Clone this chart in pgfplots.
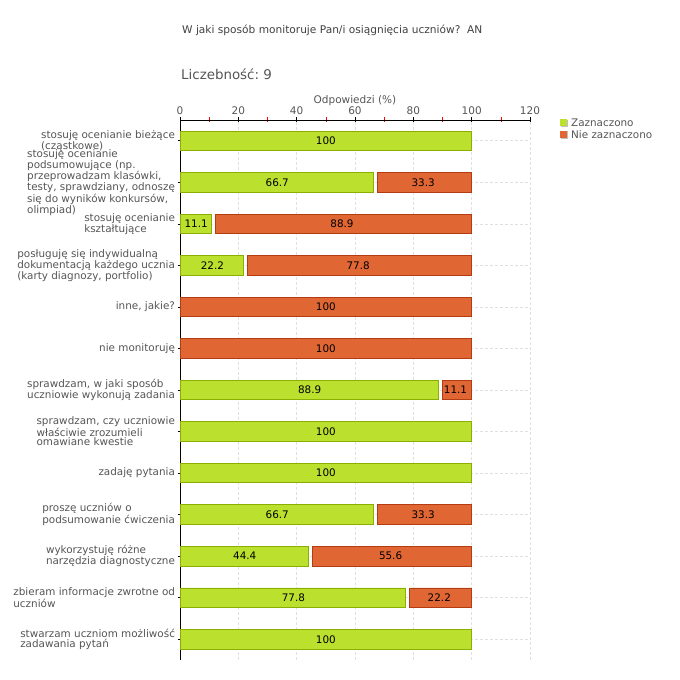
\documentclass[border=0pt]{standalone}
\usepackage{pgfplots}
\pgfplotsset{compat=1.18}
\usepackage{pgfplotstable}
\usepackage{fontspec}
\setmainfont{DejaVu Sans}
\definecolor{gfill}{HTML}{BCE02E}
\definecolor{gline}{HTML}{8CAE00}
\definecolor{ofill}{HTML}{E06633}
\definecolor{oline}{HTML}{B43C12}
\definecolor{txt}{HTML}{555555}
\pgfplotstableread{
y v1 v2
12 100 0
11 66.7 33.3
10 11.1 88.9
9 22.2 77.8
8 0 100
7 0 100
6 88.9 11.1
5 100 0
4 100 0
3 66.7 33.3
2 44.4 55.6
1 77.8 22.2
0 100 0
}\data
\begin{document}
\begin{tikzpicture}
\path[use as bounding box] (0pt,0pt) rectangle (680pt,680pt);
\node[anchor=base west, font=\fontsize{10.6}{12}\selectfont, text=black!75, inner sep=0] at (182pt,646pt) {W jaki sposób monitoruje Pan/i osiągnięcia uczniów?\ \ AN};
\node[anchor=base west, font=\fontsize{13.4}{15}\selectfont, text=txt, inner sep=0] at (181pt,600pt) {Liczebność:\ 9};
\begin{axis}[
  at={(180pt,20pt)}, anchor=south west,
  scale only axis, width=350pt, height=540pt,
  xbar stacked, bar width=19.5pt,
  xmin=0, xmax=120, ymin=-0.5, ymax=12.5,
  axis x line=top, axis y line=left,
  axis line style={-, black, line width=0.8pt},
  xtick={0,20,...,120}, minor xtick={10,30,...,110},
  minor tick style={red, line width=0.6pt},
  major tick style={black, line width=0.6pt},
  tick align=center, major tick length=5pt, minor tick length=5pt,
  ytick={0,...,12},
  grid=major, major grid style={densely dashed, black!12, line width=0.6pt},
  xlabel={Odpowiedzi (\%)}, xlabel style={font=\fontsize{10.5}{12}\selectfont, text=txt, yshift=-6pt},
  x tick label style={font=\fontsize{10.5}{12}\selectfont, text=txt, yshift=-1pt},
  /pgf/number format/assume math mode=true,
  yticklabels={{stwarzam uczniom możliwość\\zadawania pytań},
    {zbieram informacje zwrotne od\\uczniów},
    {wykorzystuję różne\\narzędzia diagnostyczne},
    {proszę uczniów o\\podsumowanie ćwiczenia},
    {zadaję pytania},
    {sprawdzam, czy uczniowie\\właściwie zrozumieli\\omawiane kwestie},
    {sprawdzam, w jaki sposób\\uczniowie wykonują zadania},
    {nie monitoruję},
    {inne, jakie?},
    {posługuję się indywidualną\\dokumentacją każdego ucznia\\(karty diagnozy, portfolio)},
    {stosuję ocenianie\\kształtujące},
    {stosuję ocenianie\\podsumowujące (np.\\przeprowadzam klasówki,\\testy, sprawdziany, odnoszę\\się do wyników konkursów,\\olimpiad)},
    {stosuję ocenianie bieżące\\(cząstkowe)}},
  y tick label style={font=\fontsize{10.4}{9.6}\selectfont, text=txt, align=left, xshift=1pt},
  legend style={at={(1.083,1.007)}, anchor=north west, draw=none, fill=none,
    font=\fontsize{10.4}{12}\selectfont, text=txt, row sep=-1.5pt, inner sep=1pt,
    nodes={inner xsep=3pt}},
  legend cell align=left,
  legend image code/.code={
    \fill[black!25] (1pt,-2.5pt) rectangle (7.5pt,4pt);
    \path[#1, draw=none] (0pt,-2pt) rectangle (6.5pt,4.5pt);
  },
]
\addplot[fill=gfill, draw=gline, line width=0.8pt]
  table[y=y, x expr={\thisrow{v1}-0.4*(\thisrow{v1}>0)*(\thisrow{v2}>0)}] {\data};
\addlegendentry{Zaznaczono}
\addplot[fill=none, draw=none, forget plot]
  table[y=y, x expr={1.4*(\thisrow{v1}>0)*(\thisrow{v2}>0)}] {\data};
\addplot[fill=ofill, draw=oline, line width=0.8pt]
  table[y=y, x expr={\thisrow{v2}-1.0*(\thisrow{v1}>0)*(\thisrow{v2}>0)}] {\data};
\addlegendentry{Nie zaznaczono}
\end{axis}
\begin{axis}[
  at={(180pt,20pt)}, anchor=south west,
  scale only axis, width=350pt, height=540pt,
  xmin=0, xmax=120, ymin=-0.5, ymax=12.5,
  hide axis, clip=false,
  /pgf/number format/assume math mode=true,
  nodes near coords={\pgfmathprintnumber[fixed,precision=1]{\pgfplotspointmeta}},
  every node near coord/.append style={anchor=center, font=\fontsize{10.4}{12}\selectfont, text=black},
  unbounded coords=discard,
]
\addplot[draw=none, mark=none, point meta=explicit,
  restrict expr to domain={\thisrow{v1}}{0.05:200}]
  table[y=y, x expr={\thisrow{v1}/2}, meta=v1] {\data};
\addplot[draw=none, mark=none, point meta=explicit,
  restrict expr to domain={\thisrow{v2}}{0.05:200}]
  table[y=y, x expr={\thisrow{v1}+\thisrow{v2}/2}, meta=v2] {\data};
\end{axis}
\end{tikzpicture}
\end{document}
